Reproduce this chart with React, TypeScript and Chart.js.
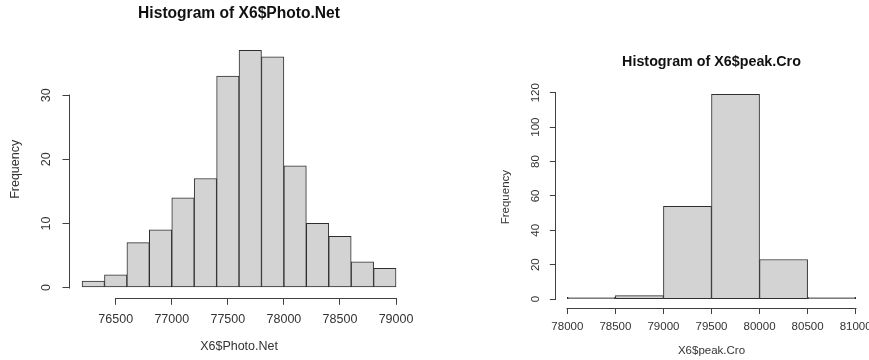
import React, { useEffect, useRef } from "react";
import { Chart, registerables } from "chart.js";

Chart.register(...registerables);

// ---- Data: left histogram ----
const leftBinEdges = [76200, 76400, 76600, 76800, 77000, 77200, 77400, 77600, 77800, 78000, 78200, 78400, 78600, 78800, 79000];
const leftCounts = [1, 2, 7, 9, 14, 17, 33, 37, 36, 19, 10, 8, 4, 3];
const leftXTicks = [76500, 77000, 77500, 78000, 78500, 79000];
const leftYTicks = [0, 10, 20, 30];
const leftTitle = "Histogram of X6$Photo.Net";
const leftXLabel = "X6$Photo.Net";

// ---- Data: right histogram ----
const rightBinEdges = [78000, 78500, 79000, 79500, 80000, 80500, 81000];
const rightCounts = [1, 2, 54, 119, 23, 1];
const rightXTicks = [78000, 78500, 79000, 79500, 80000, 80500, 81000];
const rightYTicks = [0, 20, 40, 60, 80, 100, 120];
const rightTitle = "Histogram of X6$peak.Cro";
const rightXLabel = "X6$peak.Cro";

const yLabel = "Frequency";

const FONT = "'Liberation Sans', Arial, sans-serif";
const AXIS_COLOR = "#404040";
const LABEL_COLOR = "#333333";
const TITLE_COLOR = "#111111";
const BAR_FILL = "#d3d3d3";
const BAR_EDGE = "#2e2e2e";

const axisLinePlugin = {
  id: "rAxisLines",
  afterDraw(chart: any) {
    const { ctx, chartArea, scales } = chart;
    const x = scales.x;
    const y = scales.y;
    const xt = x.ticks;
    const yt = y.ticks;
    ctx.save();
    ctx.strokeStyle = AXIS_COLOR;
    ctx.lineWidth = 1;
    const yb = Math.round(chartArea.bottom) + 0.5;
    ctx.beginPath();
    ctx.moveTo(Math.round(x.getPixelForValue(xt[0].value)) - 0.5, yb);
    ctx.lineTo(Math.round(x.getPixelForValue(xt[xt.length - 1].value)) + 0.5, yb);
    ctx.stroke();
    const xl = Math.round(chartArea.left) - 0.5;
    ctx.beginPath();
    ctx.moveTo(xl, Math.round(y.getPixelForValue(yt[0].value)) + 0.5);
    ctx.lineTo(xl, Math.round(y.getPixelForValue(yt[yt.length - 1].value)) - 0.5);
    ctx.stroke();
    ctx.restore();
  },
};

type Spec = {
  edges: number[];
  counts: number[];
  xTicks: number[];
  yTicks: number[];
  title: string;
  xLabel: string;
  xMin: number;
  xMax: number;
  yMin: number;
  yMax: number;
  padRight: number;
  yWidth: number;
  xHeight: number;
  titleSize: number;
  titleTop: number;
  titleBottom: number;
  tickSize: number;
  labelSize: number;
  tickLen: number;
  xTickPad: number;
  yTickPad: number;
  xTitlePad: number;
  yTitlePad: number;
};

function buildConfig(p: Spec): any {
  const points = p.counts.map((c, i) => ({ x: (p.edges[i] + p.edges[i + 1]) / 2, y: c }));
  const tickFont = { family: FONT, size: p.tickSize };
  const labelFont = { family: FONT, size: p.labelSize };
  const grid = {
    display: true,
    drawOnChartArea: false,
    drawTicks: true,
    tickLength: p.tickLen,
    color: AXIS_COLOR,
    lineWidth: 1,
    offset: false,
  };
  return {
    type: "bar",
    data: {
      datasets: [
        {
          data: points,
          backgroundColor: BAR_FILL,
          borderColor: BAR_EDGE,
          borderWidth: 1,
          borderSkipped: false,
          barPercentage: 1,
          categoryPercentage: 1,
        },
      ],
    },
    options: {
      animation: false,
      responsive: false,
      maintainAspectRatio: false,
      layout: { padding: { left: 0, right: p.padRight, top: 0, bottom: 0 } },
      plugins: {
        legend: { display: false },
        tooltip: { enabled: false },
        title: {
          display: true,
          fullSize: false,
          text: p.title,
          color: TITLE_COLOR,
          font: { family: FONT, size: p.titleSize, weight: "bold", lineHeight: 1.2 },
          padding: { top: p.titleTop, bottom: p.titleBottom },
        },
      },
      scales: {
        x: {
          type: "linear",
          min: p.xMin,
          max: p.xMax,
          bounds: "data",
          offset: false,
          afterBuildTicks: (s: any) => {
            s.ticks = p.xTicks.map((v) => ({ value: v }));
          },
          afterFit: (s: any) => {
            s.height = p.xHeight;
            s.paddingLeft = 0;
            s.paddingRight = 0;
            s.paddingTop = 0;
            s.paddingBottom = 0;
          },
          grid,
          border: { display: false },
          ticks: {
            autoSkip: false,
            minRotation: 0,
            maxRotation: 0,
            padding: p.xTickPad,
            color: LABEL_COLOR,
            font: tickFont,
            callback: (v: any) => String(v),
          },
          title: {
            display: true,
            text: p.xLabel,
            color: LABEL_COLOR,
            font: labelFont,
            padding: { top: 0, bottom: p.xTitlePad },
          },
        },
        y: {
          type: "linear",
          min: p.yMin,
          max: p.yMax,
          bounds: "data",
          afterBuildTicks: (s: any) => {
            s.ticks = p.yTicks.map((v) => ({ value: v }));
          },
          afterFit: (s: any) => {
            s.width = p.yWidth;
            s.paddingLeft = 0;
            s.paddingRight = 0;
            s.paddingTop = 0;
            s.paddingBottom = 0;
          },
          grid,
          border: { display: false },
          ticks: {
            autoSkip: false,
            minRotation: 90,
            maxRotation: 90,
            crossAlign: "center",
            padding: p.yTickPad,
            color: LABEL_COLOR,
            font: tickFont,
            callback: (v: any) => String(v),
          },
          title: {
            display: true,
            text: yLabel,
            color: LABEL_COLOR,
            font: labelFont,
            padding: { top: p.yTitlePad, bottom: 0 },
          },
        },
      },
    },
    plugins: [axisLinePlugin],
  };
}

const leftSpec: Spec = {
  edges: leftBinEdges,
  counts: leftCounts,
  xTicks: leftXTicks,
  yTicks: leftYTicks,
  title: leftTitle,
  xLabel: leftXLabel,
  xMin: 76088,
  xMax: 79112,
  yMin: -1.6,
  yMax: 38.48,
  padRight: 31.4,
  yWidth: 69.5,
  xHeight: 62.2,
  titleSize: 15.6,
  titleTop: 4,
  titleBottom: 18.1,
  tickSize: 12.5,
  labelSize: 12.5,
  tickLen: 7,
  xTickPad: 7,
  yTickPad: 9,
  xTitlePad: 5.5,
  yTitlePad: 8.5,
};

const rightSpec: Spec = {
  edges: rightBinEdges,
  counts: rightCounts,
  xTicks: rightXTicks,
  yTicks: rightYTicks,
  title: rightTitle,
  xLabel: rightXLabel,
  xMin: 77880,
  xMax: 81120,
  yMin: -5.2,
  yMax: 123.76,
  padRight: 1.8,
  yWidth: 115.8,
  xHeight: 52,
  titleSize: 14.3,
  titleTop: 53.4,
  titleBottom: 15.7,
  tickSize: 11.5,
  labelSize: 11.5,
  tickLen: 6,
  xTickPad: 5.8,
  yTickPad: 4.2,
  xTitlePad: 2.4,
  yTitlePad: 59,
};

export default function App() {
  const leftRef = useRef<HTMLCanvasElement | null>(null);
  const rightRef = useRef<HTMLCanvasElement | null>(null);

  useEffect(() => {
    const charts: Chart[] = [];
    if (leftRef.current) charts.push(new Chart(leftRef.current, buildConfig(leftSpec)));
    if (rightRef.current) charts.push(new Chart(rightRef.current, buildConfig(rightSpec)));
    return () => {
      charts.forEach((c) => c.destroy());
    };
  }, []);

  return (
    <div
      style={{
        position: "absolute",
        left: 0,
        top: 0,
        width: 869,
        height: 360,
        background: "#ffffff",
        overflow: "hidden",
      }}
    >
      <canvas
        ref={leftRef}
        width={440}
        height={360}
        style={{ position: "absolute", left: 0, top: 0, width: 440, height: 360, display: "block" }}
      />
      <canvas
        ref={rightRef}
        width={429}
        height={360}
        style={{ position: "absolute", left: 440, top: 0, width: 429, height: 360, display: "block" }}
      />
    </div>
  );
}
